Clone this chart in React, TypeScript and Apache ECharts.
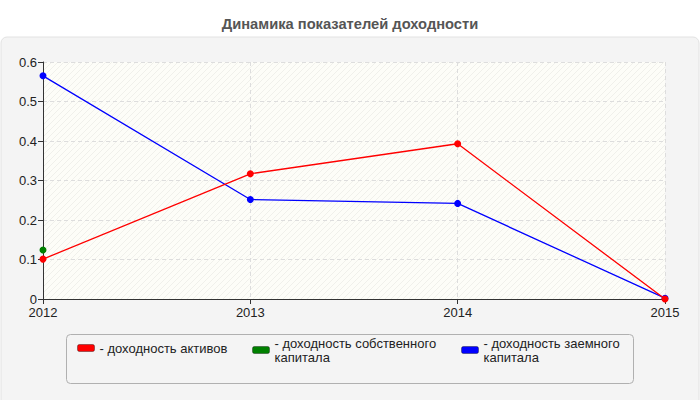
import React, { useEffect, useRef } from "react";
import * as echarts from "echarts";

const years = ["2012", "2013", "2014", "2015"];
const assetsReturn = [0.101, 0.317, 0.393, 0.0];
const equityReturn: (number | null)[] = [0.124, null, null, null];
const debtReturn = [0.565, 0.252, 0.242, 0.002];
const seriesNames = ["доходность активов", "доходность собственного капитала", "доходность заемного капитала"];
const legendLabels = ["- доходность активов", "- доходность собственного\nкапитала", "- доходность заемного\nкапитала"];
const colors = ["#ff0000", "#008000", "#0000ff"];

const FONT = "'Liberation Sans', Arial, sans-serif";

export default function App() {
  const ref = useRef<HTMLDivElement>(null);
  useEffect(() => {
    if (!ref.current) return;
    const chart = echarts.init(ref.current, undefined, { renderer: "svg" });

    let bg: any = "#fdfdf8";
    try {
      const c = document.createElement("canvas");
      c.width = 6;
      c.height = 6;
      const ctx = c.getContext("2d");
      if (ctx) {
        ctx.fillStyle = "#fdfdf8";
        ctx.fillRect(0, 0, 6, 6);
        ctx.strokeStyle = "rgba(0,0,0,0.05)";
        ctx.lineWidth = 1;
        ctx.beginPath();
        ctx.moveTo(-1, 7);
        ctx.lineTo(7, -1);
        ctx.stroke();
        bg = { image: c, repeat: "repeat" };
      }
    } catch (e) {}

    const datas = [assetsReturn, equityReturn, debtReturn];
    const LH = 14;
    const legendPos = [
      { left: 77, top: 341, padTop: 0 },
      { left: 252, top: 329, padTop: LH },
      { left: 461, top: 329, padTop: LH },
    ];

    chart.setOption({
      animation: false,
      backgroundColor: "#ffffff",
      title: {
        text: "Динамика показателей доходности",
        left: "center",
        top: 11,
        textStyle: { fontFamily: FONT, fontSize: 14.7, fontWeight: "bold", color: "#555555" },
      },
      graphic: [
        {
          type: "rect",
          z: -10,
          silent: true,
          shape: { x: 1, y: 37, width: 698, height: 380, r: 6 },
          style: { fill: "#f4f4f4", stroke: "#e2e2e2", lineWidth: 1 },
        },
        {
          type: "rect",
          z: -9,
          silent: true,
          shape: { x: 66.5, y: 334.5, width: 567, height: 49, r: 4 },
          style: { fill: "#f4f4f4", stroke: "#b0b0b0", lineWidth: 1 },
        },
      ],
      legend: seriesNames.map((n, i) => ({
        data: [n],
        left: legendPos[i].left,
        top: legendPos[i].top,
        orient: "horizontal",
        padding: 0,
        itemWidth: 17,
        itemHeight: 7,
        itemGap: 0,
        icon: "roundRect",
        selectedMode: false,
        formatter: () => legendLabels[i],
        itemStyle: { borderColor: "rgba(0,0,0,0.35)", borderWidth: 1 },
        textStyle: {
          fontFamily: FONT,
          fontSize: 13,
          color: "#222222",
          lineHeight: LH,
          padding: [legendPos[i].padTop, 0, 0, 0],
        },
      })),
      grid: {
        left: 43,
        right: 35,
        top: 62,
        bottom: 101,
        show: true,
        backgroundColor: bg,
        borderWidth: 0,
      },
      xAxis: {
        type: "category",
        data: years,
        boundaryGap: false,
        axisLine: { lineStyle: { color: "#333333", width: 1 } },
        axisTick: { alignWithLabel: true, length: 5, lineStyle: { color: "#333333" } },
        axisLabel: { fontFamily: FONT, fontSize: 13, color: "#222222", margin: 7 },
        splitLine: { show: true, lineStyle: { color: "#dddddd", type: [4, 3] } },
      },
      yAxis: {
        type: "value",
        min: 0,
        max: 0.6,
        interval: 0.1,
        axisLine: { show: true, lineStyle: { color: "#333333", width: 1 } },
        axisTick: { show: true, length: 5, lineStyle: { color: "#333333" } },
        axisLabel: { fontFamily: FONT, fontSize: 13, color: "#222222", margin: 6 },
        splitLine: { show: true, lineStyle: { color: "#dddddd", type: [4, 3] } },
      },
      series: seriesNames.map((n, i) => ({
        name: n,
        type: "line",
        data: datas[i],
        color: colors[i],
        symbol: "circle",
        symbolSize: 7,
        showSymbol: true,
        connectNulls: false,
        lineStyle: { width: 1.3, color: colors[i] },
        itemStyle: { color: colors[i] },
        z: i === 0 ? 3 : 2,
      })),
    });
    return () => chart.dispose();
  }, []);
  return <div ref={ref} style={{ width: 700, height: 400, position: "absolute", left: 0, top: 0 }} />;
}
